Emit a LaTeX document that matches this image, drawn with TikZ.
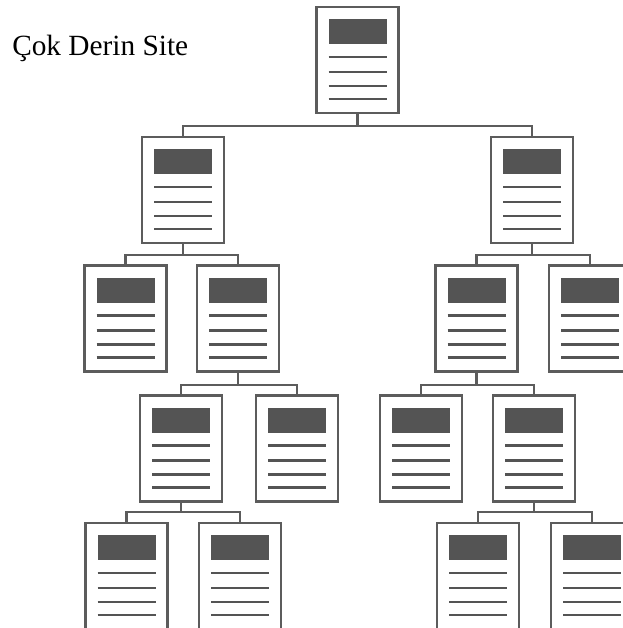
\documentclass[tikz,border=0pt]{standalone}
\usepackage{fontspec}
\setmainfont{Liberation Serif}
\definecolor{edgegray}{HTML}{5C5C5C}
\definecolor{blockgray}{HTML}{545454}
\tikzset{
  page/.style={
    draw=edgegray, line width=1.9pt, fill=white,
    minimum width=61.5pt, minimum height=79.5pt, inner sep=0pt,
    path picture={
      \coordinate (nw) at (path picture bounding box.north west);
      \fill[blockgray] ([xshift=9pt,yshift=-9pt]nw) rectangle ([xshift=52.5pt,yshift=-27.75pt]nw);
      \foreach \d in {37.5,48.75,59.25,69}
        \draw[blockgray, line width=2.1pt] ([xshift=9pt,yshift=-\d pt]nw) -- ([xshift=52.5pt,yshift=-\d pt]nw);
    }
  },
  conn/.style={draw=edgegray, line width=1.8pt}
}
\begin{document}
\begin{tikzpicture}[x=0.75pt, y=-0.75pt]
\useasboundingbox (0,0) rectangle (623,628);
\clip (0,0) rectangle (623,628);
\fill[white] (0,0) rectangle (623,628);

\node[anchor=base west, inner xsep=0pt, font=\fontsize{22pt}{26pt}\selectfont] (title) at (12,55) {Çok Derin Site};

% root
\node[page] (r) at (357.5,60) {};
% level 1
\node[page] (a) at (183,190) {};
\node[page] (b) at (532,190) {};
% level 2
\node[page] (aa) at (125.5,318.5) {};
\node[page] (ab) at (238,318.5) {};
\node[page] (ba) at (476.5,318.5) {};
\node[page] (bb) at (590,318.5) {};
% level 3
\node[page] (aba) at (181,448.5) {};
\node[page] (abb) at (297,448.5) {};
\node[page] (baa) at (421,448.5) {};
\node[page] (bab) at (534,448.5) {};
% level 4
\node[page] (abaa) at (126.5,576) {};
\node[page] (abab) at (240,576) {};
\node[page] (baba) at (478,576) {};
\node[page] (babb) at (592,576) {};

% junctions on the connecting bars
\coordinate (jr) at (357.5,126);
\coordinate (ja) at (183,255);
\coordinate (jb) at (532,255);
\coordinate (jab) at (238,385);
\coordinate (jba) at (476.5,385);
\coordinate (jaba) at (181,512);
\coordinate (jbab) at (534,512);

\draw[conn] (r.south) -- (jr);
\draw[conn] (a.north) |- (jr) -| (b.north);

\draw[conn] (a.south) -- (ja);
\draw[conn] (aa.north) |- (ja) -| (ab.north);
\draw[conn] (b.south) -- (jb);
\draw[conn] (ba.north) |- (jb) -| (bb.north);

\draw[conn] (ab.south) -- (jab);
\draw[conn] (aba.north) |- (jab) -| (abb.north);
\draw[conn] (ba.south) -- (jba);
\draw[conn] (baa.north) |- (jba) -| (bab.north);

\draw[conn] (aba.south) -- (jaba);
\draw[conn] (abaa.north) |- (jaba) -| (abab.north);
\draw[conn] (bab.south) -- (jbab);
\draw[conn] (baba.north) |- (jbab) -| (babb.north);
\end{tikzpicture}
\end{document}
